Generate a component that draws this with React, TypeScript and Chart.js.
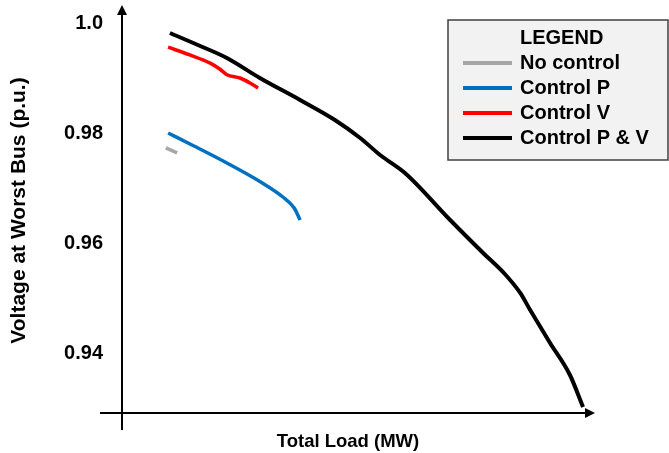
import React, { useEffect, useRef } from "react";
import { Chart, registerables } from "chart.js";

Chart.register(...registerables);

const FONT = "'Liberation Sans', Arial, sans-serif";

const yTicks = [0.94, 0.96, 0.98, 1.0];
const xTitle = "Total Load (MW)";
const yTitle = "Voltage at Worst Bus (p.u.)";
const legendTitle = "LEGEND";

const seriesLabels = ["No control", "Control P", "Control V", "Control P & V"];
const seriesColors = ["#a6a6a6", "#0070c0", "#ff0000", "#000000"];
const seriesWidths = [3.5, 3.5, 3.5, 4];

const noControlLoad = [9.7, 12.2];
const noControlVolt = [0.9773, 0.9764];

const controlPLoad = [10.2, 15.7, 23.2, 30.5, 35.6, 38.1, 39.4];
const controlPVolt = [0.98, 0.97773, 0.97455, 0.97118, 0.96836, 0.96636, 0.96418];

const controlVLoad = [10.2, 15.0, 19.5, 21.7, 23.2, 26.1, 28.3, 30.1];
const controlVVolt = [0.9956, 0.9942, 0.9927, 0.9916, 0.9906, 0.99, 0.9891, 0.9882];

const controlPVLoad = [10.6, 16.8, 23.2, 30.5, 39.4, 47.1, 52.7, 57.1, 62.6, 72.6, 79.9, 84.7, 88.1, 90.3, 94.7, 99.1, 102.0];
const controlPVVolt = [0.99818, 0.996, 0.99364, 0.99, 0.986, 0.98236, 0.97909, 0.976, 0.97273, 0.96418, 0.95818, 0.95436, 0.95091, 0.94782, 0.94182, 0.936, 0.93018];

const xMin = 0;
const xMax = 100;
const yMin = 0.929091;
const yMax = 1.002727;

const pts = (xs: number[], ys: number[]) => xs.map((x, i) => ({ x, y: ys[i] }));

const axesPlugin = {
  id: "arrowAxes",
  afterDatasetsDraw(chart: any) {
    const { ctx, chartArea } = chart;
    const { left, right, top, bottom } = chartArea;
    ctx.save();
    ctx.strokeStyle = "#000";
    ctx.fillStyle = "#000";
    ctx.lineWidth = 2;
    // y axis
    ctx.beginPath();
    ctx.moveTo(left, bottom + 17);
    ctx.lineTo(left, top + 6);
    ctx.stroke();
    ctx.beginPath();
    ctx.moveTo(left, top - 3);
    ctx.lineTo(left - 5, top + 7);
    ctx.lineTo(left + 5, top + 7);
    ctx.closePath();
    ctx.fill();
    // x axis
    ctx.beginPath();
    ctx.moveTo(left - 22, bottom);
    ctx.lineTo(right + 12, bottom);
    ctx.stroke();
    ctx.beginPath();
    ctx.moveTo(right + 21, bottom);
    ctx.lineTo(right + 11, bottom - 5);
    ctx.lineTo(right + 11, bottom + 5);
    ctx.closePath();
    ctx.fill();
    ctx.restore();
  },
};

const legendPlugin = {
  id: "boxLegend",
  afterDraw(chart: any) {
    const { ctx } = chart;
    const bx = 448, by = 20, bw = 220, bh = 140;
    ctx.save();
    ctx.fillStyle = "#f2f2f2";
    ctx.fillRect(bx, by, bw, bh);
    ctx.strokeStyle = "#404040";
    ctx.lineWidth = 1.5;
    ctx.strokeRect(bx, by, bw, bh);
    ctx.font = `bold 20px ${FONT}`;
    ctx.textBaseline = "middle";
    ctx.textAlign = "left";
    ctx.fillStyle = "#000";
    ctx.fillText(legendTitle, 520, 38);
    chart.data.datasets.forEach((ds: any, i: number) => {
      const y = 63 + i * 25;
      ctx.strokeStyle = ds.borderColor;
      ctx.lineWidth = 4;
      ctx.beginPath();
      ctx.moveTo(463, y);
      ctx.lineTo(512, y);
      ctx.stroke();
      ctx.fillStyle = "#000";
      ctx.fillText(ds.label, 520, y);
    });
    ctx.restore();
  },
};

export default function App() {
  const ref = useRef<HTMLCanvasElement | null>(null);
  useEffect(() => {
    if (!ref.current) return;
    Chart.defaults.font.family = FONT;
    const series = [
      pts(noControlLoad, noControlVolt),
      pts(controlPLoad, controlPVolt),
      pts(controlVLoad, controlVVolt),
      pts(controlPVLoad, controlPVVolt),
    ];
    const chart = new Chart(ref.current, {
      type: "line",
      data: {
        datasets: series.map((d, i) => ({
          label: seriesLabels[i],
          data: d,
          borderColor: seriesColors[i],
          backgroundColor: seriesColors[i],
          borderWidth: seriesWidths[i],
          pointRadius: 0,
          tension: 0.4,
          cubicInterpolationMode: "monotone",
          clip: false,
          fill: false,
        })),
      },
      options: {
        animation: false,
        responsive: false,
        maintainAspectRatio: false,
        layout: { padding: { left: 0, right: 95, top: 8, bottom: 0 } },
        plugins: { legend: { display: false }, tooltip: { enabled: false } },
        scales: {
          x: {
            type: "linear",
            min: xMin,
            max: xMax,
            grid: { display: false, drawTicks: false },
            border: { display: false },
            ticks: { display: false },
            title: {
              display: true,
              text: xTitle,
              color: "#000",
              font: { size: 18.5, weight: "bold", family: FONT },
              padding: { top: 0, bottom: 0 },
            },
            afterFit: (s: any) => {
              s.height = 40;
              s.paddingLeft = 0;
              s.paddingRight = 0;
            },
          },
          y: {
            type: "linear",
            min: yMin,
            max: yMax,
            grid: { display: false, drawTicks: false },
            border: { display: false },
            ticks: {
              color: "#000",
              padding: 19,
              font: { size: 20, weight: "bold", family: FONT },
              callback: (v: any) => (Number(v) === 1 ? "1.0" : Number(v).toFixed(2)),
            },
            afterBuildTicks: (s: any) => {
              s.ticks = yTicks.map((v) => ({ value: v }));
            },
            title: {
              display: true,
              text: yTitle,
              color: "#000",
              font: { size: 21, weight: "bold", family: FONT },
              padding: { top: 7, bottom: 0 },
            },
            afterFit: (s: any) => {
              s.width = 122;
              s.paddingTop = 0;
              s.paddingBottom = 0;
            },
          },
        },
      },
      plugins: [axesPlugin, legendPlugin],
    } as any);
    return () => chart.destroy();
  }, []);
  return (
    <div style={{ position: "fixed", left: 0, top: 0, width: 669, height: 453, background: "#fff" }}>
      <canvas ref={ref} width={669} height={453} style={{ display: "block" }} />
    </div>
  );
}
